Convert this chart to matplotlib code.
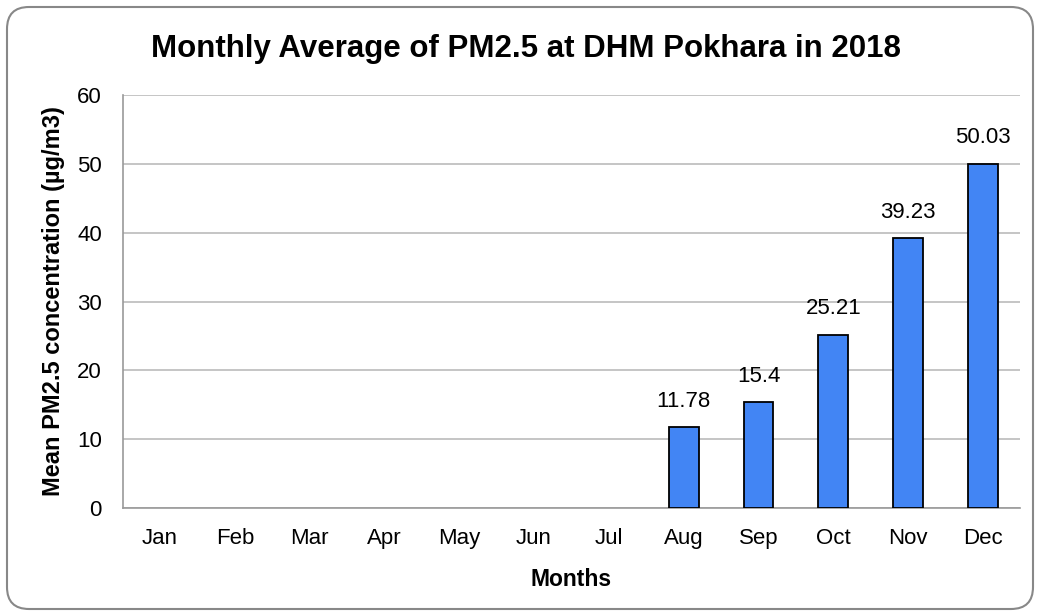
import matplotlib
matplotlib.use('Agg')
import matplotlib.pyplot as plt
import matplotlib.patches as mpatches
import matplotlib.transforms as mtransforms
import numpy as np

months = ['Jan', 'Feb', 'Mar', 'Apr', 'May', 'Jun',
          'Jul', 'Aug', 'Sep', 'Oct', 'Nov', 'Dec']
# no data Jan-Jul
pm25 = [None, None, None, None, None, None,
        None, 11.78, 15.4, 25.21, 39.23, 50.03]
value_labels = ['', '', '', '', '', '', '', '11.78', '15.4', '25.21', '39.23', '50.03']
yticks = [0, 10, 20, 30, 40, 50, 60]

plt.rcParams['font.family'] = ['Liberation Sans', 'DejaVu Sans']

fig = plt.figure(figsize=(10.4, 6.16), dpi=100)
ax = fig.add_axes([0.118, 0.175, 0.863, 0.671])

x = np.arange(len(months))
have = [i for i, v in enumerate(pm25) if v is not None]
ax.bar([x[i] for i in have], [pm25[i] for i in have], width=0.4,
       color='#4285F4', edgecolor='black', linewidth=1.3, zorder=3)
for i in have:
    ax.annotate(value_labels[i], (x[i], pm25[i]), xytext=(0, 11),
                textcoords='offset points', ha='center', va='bottom',
                fontsize=16)

ax.set_xlim(-0.5, len(months) - 0.5)
ax.set_ylim(0, 60)
ax.set_yticks(yticks)
ax.set_xticks(x)
ax.set_xticklabels(months)
ax.tick_params(axis='both', length=0, labelsize=16)
ax.tick_params(axis='x', pad=14)
ax.tick_params(axis='y', pad=15)
ax.grid(axis='y', color='#BBBBBB', linewidth=1.2, zorder=0)
for side in ['top', 'right']:
    ax.spines[side].set_visible(False)
for side in ['left', 'bottom']:
    ax.spines[side].set_color('#999999')
    ax.spines[side].set_linewidth(1.2)

ax.set_xlabel('Months', fontsize=16.5, fontweight='bold', labelpad=14)
ax.set_ylabel('Mean PM2.5 concentration (µg/m3)', fontsize=17,
              fontweight='bold', labelpad=9)
fig.suptitle('Monthly Average of PM2.5 at DHM Pokhara in 2018',
             fontsize=22.5, fontweight='bold', x=0.506, y=0.944)

border = mpatches.FancyBboxPatch((7, 7), 1026, 602,
                                 boxstyle='round,pad=0,rounding_size=22',
                                 transform=mtransforms.IdentityTransform(),
                                 facecolor='none', edgecolor='#888888',
                                 linewidth=1.5)
fig.add_artist(border)

fig.savefig('out.png', dpi=100)
